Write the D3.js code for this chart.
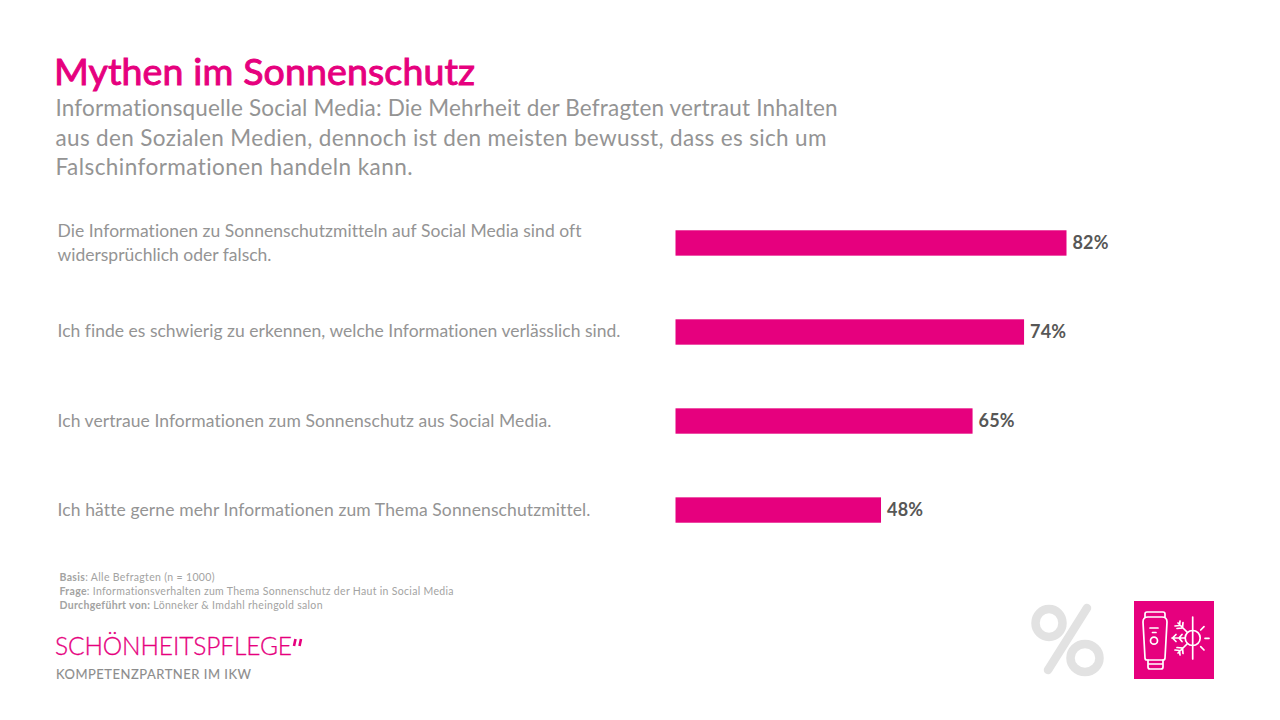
<!DOCTYPE html>
<html><head><meta charset="utf-8">
<script src="https://cdn.jsdelivr.net/npm/d3@7"></script>
<style>html,body{margin:0;padding:0;background:#fff}svg{display:block}text{font-family:Lato,sans-serif;font-variant-ligatures:none}</style>
</head><body><svg id="c" width="1280" height="720"></svg>
<script>
const categories = [
  ["Die Informationen zu Sonnenschutzmitteln auf Social Media sind oft","widersprüchlich oder falsch."],
  ["Ich finde es schwierig zu erkennen, welche Informationen verlässlich sind."],
  ["Ich vertraue Informationen zum Sonnenschutz aus Social Media."],
  ["Ich hätte gerne mehr Informationen zum Thema Sonnenschutzmittel."]
];
// Printed labels
const valueLabels = ["82%","74%","65%","48%"];
// Drawn bar lengths: the reference's bars are not proportional to their labels
const barLengths = [82, 73.1, 62.3, 43.1];
const subtitleLines = [
  "Informationsquelle Social Media: Die Mehrheit der Befragten vertraut Inhalten",
  "aus den Sozialen Medien, dennoch ist den meisten bewusst, dass es sich um",
  "Falschinformationen handeln kann."
];
const footnotes = [
  ["Basis", ": Alle Befragten (n = 1000)"],
  ["Frage", ": Informationsverhalten zum Thema Sonnenschutz der Haut in Social Media"],
  ["Durchgeführt von:", " Lönneker & Imdahl rheingold salon"]
];
const pink = "#e6007e", grey = "#949494";
const svg = d3.select("#c");
const x = d3.scaleLinear().domain([0,82]).range([675.5,1066.5]);
const y = d3.scaleBand().domain(d3.range(4)).range([198.5,554.5]).paddingInner(0.715).paddingOuter(0.357);

// text fitted to the reference's line widths
const subW = [782,771,357], catW = [[524,214],[563],[494],[533]], fnW = [155,394,263];

svg.append("text").attr("x",54).attr("y",85).attr("fill",pink).attr("stroke",pink).attr("stroke-width",1)
  .attr("font-size",37.5).attr("textLength",421).attr("lengthAdjust","spacing").text("Mythen im Sonnenschutz");
svg.selectAll(".sub").data(subtitleLines).join("text").attr("class","sub")
  .attr("x",55.5).attr("y",(d,i)=>116+i*29.5).attr("fill",grey).attr("font-size",22.5)
  .attr("textLength",(d,i)=>subW[i]).attr("lengthAdjust","spacing").text(d=>d);

svg.selectAll(".bar").data(barLengths).join("rect").attr("class","bar")
  .attr("x",x(0)).attr("y",(d,i)=>y(i)).attr("width",d=>x(d)-x(0)).attr("height",y.bandwidth()).attr("fill",pink);
svg.selectAll(".val").data(barLengths).join("text").attr("class","val")
  .attr("x",d=>x(d)+6).attr("y",(d,i)=>y(i)+y.bandwidth()/2+6).attr("fill","#575756")
  .attr("font-size",18).attr("font-weight",700).attr("textLength",36).attr("lengthAdjust","spacing").text((d,i)=>valueLabels[i]);

categories.forEach((lines,i)=>{
  const cy = y(i)+y.bandwidth()/2;
  lines.forEach((l,j)=>{
    svg.append("text").attr("x",57.5).attr("y",cy+5.5+(j-(lines.length-1)/2)*24+(lines.length>1?0.5:0))
      .attr("fill",grey).attr("font-size",17.5).attr("textLength",catW[i][j]).attr("lengthAdjust","spacing").text(l);
  });
});

const fn = svg.selectAll(".fn").data(footnotes).join("text").attr("class","fn")
  .attr("x",59.5).attr("y",(d,i)=>581+i*14).attr("fill","#a3a3a2").attr("font-size",10.5)
  .attr("textLength",(d,i)=>fnW[i]).attr("lengthAdjust","spacing");
fn.append("tspan").attr("font-weight",700).text(d=>d[0]);
fn.append("tspan").text(d=>d[1]);

svg.append("text").attr("x",55).attr("y",655).attr("fill",pink).attr("stroke",pink).attr("stroke-width",0.3).attr("font-size",24.5).attr("font-weight",300)
  .attr("textLength",237).attr("lengthAdjust","spacing").text("SCHÖNHEITSPFLEGE");
svg.append("path").attr("d","M295.500 639 L294 646 M301 639 L299.500 646").attr("stroke",pink).attr("stroke-width",2.6).attr("fill","none");
svg.append("text").attr("x",56).attr("y",679).attr("fill","#8c8c8c").attr("stroke","#8c8c8c").attr("stroke-width",0.1).attr("font-size",13)
  .attr("textLength",195).attr("lengthAdjust","spacing").text("KOMPETENZPARTNER IM IKW");

// Percent sign
const p = svg.append("g").attr("fill","none").attr("stroke","#e2e2e2").attr("stroke-width",8.5).attr("stroke-linecap","round");
p.append("ellipse").attr("cx",1049).attr("cy",623).attr("rx",13.5).attr("ry",14);
p.append("ellipse").attr("cx",1085).attr("cy",658).attr("rx",14.5).attr("ry",14);
p.append("line").attr("x1",1087).attr("y1",608).attr("x2",1048).attr("y2",670);

// Icon
svg.append("rect").attr("x",1134).attr("y",601).attr("width",80).attr("height",78).attr("fill",pink);
const ic = svg.append("g").attr("fill","none").attr("stroke","#fff").attr("stroke-width",1.7).attr("stroke-linecap","round").attr("stroke-linejoin","round");
ic.append("path").attr("d","M1145 617 L1145 614 Q1145 612 1147 612 L1163 612 Q1165 612 1165 614 L1165 617");
ic.append("path").attr("d","M1143 622 Q1143 617 1148 617 L1162 617 Q1167 617 1167 622 L1165 658 Q1165 660 1163 660 L1147 660 Q1145 660 1145 658 Z");
ic.append("path").attr("d","M1148 660 L1148 667 Q1148 669 1150 669 L1161 669 Q1163 669 1163 667 L1163 660 M1148 664 L1163 664");
ic.append("path").attr("d","M1150 628 L1158 628 M1152.500 632.500 L1156 632.500");
ic.append("circle").attr("cx",1154).attr("cy",640.7).attr("r",3.5);
ic.append("path").attr("d","M1192.700 617 L1192.700 659");
ic.append("circle").attr("cx",1192.700).attr("cy",638).attr("r",7.5);
ic.append("path").attr("d","M1200.700 630 L1204 626.700 M1205 638.300 L1209 638.300 M1200.700 646.700 L1204 650");
ic.append("path").attr("d","M1185 638 L1172 638 M1176 634.500 L1172.500 638 L1176 641.500 M1182 634.500 L1179 638 L1182 641.500");
ic.append("path").attr("d","M1187 632 L1178 623 M1177 628.500 L1182.500 628 L1183 622.500 M1175 626 L1179.500 625.500 L1180 621");
ic.append("path").attr("d","M1187 644 L1178 653 M1177 647.500 L1182.500 648 L1183 653.500 M1175 650 L1179.500 650.500 L1180 655");
</script></body></html>
